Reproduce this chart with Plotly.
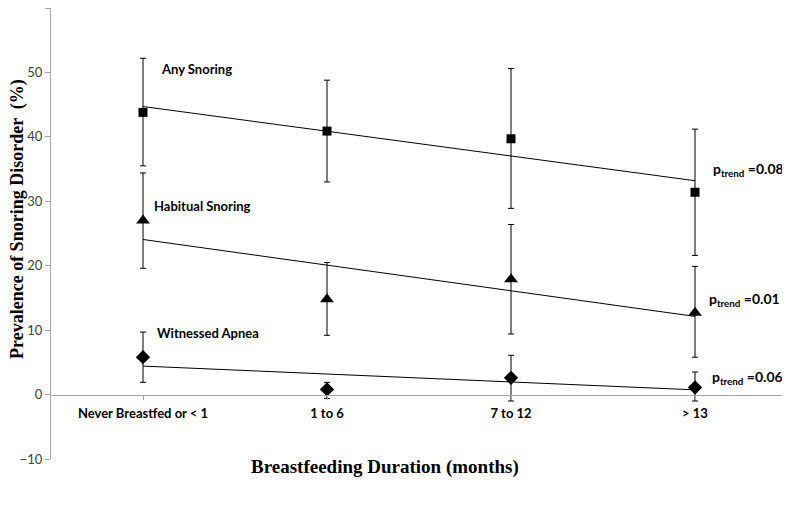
import numpy as np
import plotly.graph_objects as go

categories = ["Never Breastfed or < 1", "1 to 6", "7 to 12", "> 13"]

any_snoring = [43.8, 40.9, 39.7, 31.4]
any_low = [35.5, 33.0, 28.9, 21.6]
any_high = [52.2, 48.8, 50.6, 41.2]

habitual = [27.0, 14.8, 17.9, 12.7]
hab_low = [19.6, 9.2, 9.4, 5.8]
hab_high = [34.4, 20.5, 26.4, 19.9]

apnea = [5.8, 0.8, 2.6, 1.1]
apn_low = [1.9, -0.6, -1.0, -1.0]
apn_high = [9.7, 1.9, 6.1, 3.5]

series_names = ["Any Snoring", "Habitual Snoring", "Witnessed Apnea"]
p_labels = ["0.08", "0.01", "0.06"]

y_ticks = [-10, 0, 10, 20, 30, 40, 50, 60]

fig = go.Figure()

idx = np.arange(len(categories))
series = [
    (any_snoring, any_low, any_high, "square", 9),
    (habitual, hab_low, hab_high, "triangle-up", 12),
    (apnea, apn_low, apn_high, "diamond", 11),
]

# linear trend lines (least squares, like spreadsheet trendlines)
for vals, lo, hi, sym, sz in series:
    slope, inter = np.polyfit(idx, vals, 1)
    fig.add_trace(go.Scatter(
        x=categories, y=list(inter + slope * idx), mode="lines",
        line=dict(color="black", width=1), hoverinfo="skip", showlegend=False))

for (vals, lo, hi, sym, sz), name in zip(series, series_names):
    fig.add_trace(go.Scatter(
        x=categories, y=vals, mode="markers", name=name,
        marker=dict(symbol=sym, size=sz, color="black"),
        error_y=dict(type="data", symmetric=False,
                     array=[h - v for h, v in zip(hi, vals)],
                     arrayminus=[v - l for v, l in zip(vals, lo)],
                     color="black", thickness=1, width=3),
        showlegend=False))

label_font = dict(family="Lato, Open Sans, sans-serif", size=13, color="black", weight="bold")

# page pixel -> plot coordinates (plot area spans page x 51..787, y 8..459)
def px2paper(px):
    return (px - 51) / 736.0

def pxy(py):
    return (395 - py) / 6.45

for name, (xp, yp) in zip(series_names, [(159, 69), (152, 206), (155, 333)]):
    fig.add_annotation(x=px2paper(xp), xref="paper", y=pxy(yp), yref="y",
                       text=name, showarrow=False, xanchor="left",
                       yanchor="middle", font=label_font)

for p, (xp, yp) in zip(p_labels, [(711, 170), (707, 300), (710, 378)]):
    fig.add_annotation(x=px2paper(xp), xref="paper", y=pxy(yp), yref="y",
                       text="p<sub>trend</sub> =%s" % p, showarrow=False,
                       xanchor="left", yanchor="middle", font=dict(label_font, size=14))

fig.add_annotation(x=px2paper(385), xref="paper", y=(459 - 467) / 451.0, yref="paper",
                   text="Breastfeeding Duration (months)", showarrow=False,
                   xanchor="center", yanchor="middle",
                   font=dict(family="Liberation Serif, Times New Roman, serif", size=19,
                             color="black", weight="bold"))
fig.add_annotation(x=px2paper(17), xref="paper", y=(459 - 219) / 451.0, yref="paper",
                   text="Prevalence of Snoring Disorder \u00a0(%)", showarrow=False,
                   textangle=-90, xanchor="center", yanchor="middle",
                   font=dict(family="Liberation Serif, Times New Roman, serif", size=18,
                             color="black", weight="bold"))

# page has an 8px body margin, so the figure is 8px smaller each way
fig.update_layout(
    width=782, height=505,
    margin=dict(l=43, r=3, t=0, b=54),
    paper_bgcolor="white", plot_bgcolor="white",
    showlegend=False,
    xaxis=dict(type="category", categoryorder="array", categoryarray=categories,
               range=[-0.5, 3.5], anchor="free", position=10 / 70.0,
               showline=True, linecolor="#a6a6a6", linewidth=1,
               ticks="outside", ticklen=4, tickcolor="#a6a6a6",
               showgrid=False, zeroline=False, automargin=False,
               tickfont=dict(family="Lato, Open Sans, sans-serif", size=13, color="black",
                             weight="bold"),
               ticklabelstandoff=3),
    yaxis=dict(range=[-10, 60], tickvals=y_ticks, showline=True, linecolor="#a6a6a6",
               linewidth=1, ticks="outside", ticklen=5, tickcolor="#a6a6a6",
               showgrid=False, zeroline=False, automargin=False,
               tickfont=dict(family="Lato, Open Sans, sans-serif", size=13, color="#404040")),
)

fig.write_html("out.html")
